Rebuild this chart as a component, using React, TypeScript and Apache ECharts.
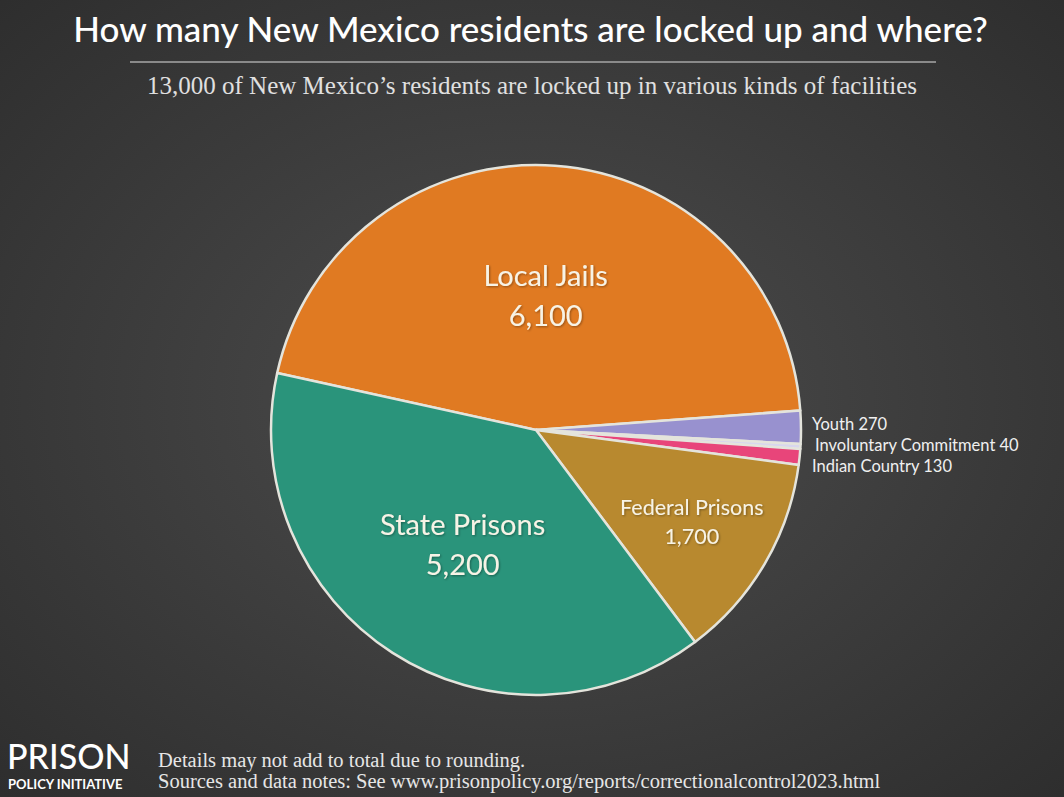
import React, { useEffect, useRef } from "react";
import * as echarts from "echarts";

const categories = ["Local Jails", "Youth", "Involuntary Commitment", "Indian Country", "Federal Prisons", "State Prisons"];
const values = [6100, 270, 40, 130, 1700, 5200];
const colors = ["#E07A22", "#9891CF", "#D8D6EE", "#E8457A", "#B8892F", "#2A947B"];
const bigLabels = ["Local Jails", "State Prisons"];
const midLabels = ["Federal Prisons"];
const smallLabels = ["Youth", "Involuntary Commitment", "Indian Country"];

const title = "How many New Mexico residents are locked up and where?";
const subtitle = "13,000 of New Mexico\u2019s residents are locked up in various kinds of facilities";
const note1 = "Details may not add to total due to rounding.";
const note2 = "Sources and data notes: See www.prisonpolicy.org/reports/correctionalcontrol2023.html";

const fmt = (v: number) => v.toLocaleString("en-US");

export default function App() {
  const ref = useRef<HTMLDivElement>(null);
  useEffect(() => {
    const chart = echarts.init(ref.current!, null, { renderer: "svg" });
    const center = ["536", "430"];
    const R = 265;
    const labelFont = "Lato, 'Open Sans', sans-serif";
    const pieData = categories.map((c, i) => ({ name: c, value: values[i], itemStyle: { color: colors[i] } }));
    const labelData = (show: string[], size: number) =>
      categories.map((c, i) => ({
        name: c,
        value: values[i],
        label: { show: show.includes(c), fontSize: size },
      }));
    const smallY = [424, 445, 466];
    const smallX = [812, 815, 812];
    const shadow = {
      textShadowColor: "rgba(0,0,0,0.35)",
      textShadowBlur: 2,
      textShadowOffsetX: 1,
      textShadowOffsetY: 1,
    };
    chart.setOption({
      animation: false,
      backgroundColor: {
        type: "radial",
        x: 0.5,
        y: 0.5,
        r: 0.75,
        colorStops: [
          { offset: 0, color: "#4d4d4d" },
          { offset: 1, color: "#2c2c2c" },
        ],
      },
      graphic: [
        {
          type: "text",
          left: "center",
          top: 10,
          style: { text: title, fill: "#ffffff", font: "500 35px Lato, 'Open Sans', sans-serif" },
        },
        {
          type: "line",
          shape: { x1: 130, y1: 62, x2: 936, y2: 62 },
          style: { stroke: "#8a8a8a", lineWidth: 2 },
        },
        {
          type: "text",
          left: "center",
          top: 73,
          style: { text: subtitle, fill: "#e0e0e0", font: "25px 'Liberation Serif', 'DejaVu Serif', serif" },
        },
        ...smallLabels.map((c, k) => ({
          type: "text",
          x: smallX[k],
          y: smallY[k],
          style: {
            text: `${c} ${fmt(values[categories.indexOf(c)])}`,
            fill: "#f0f0f0",
            font: "16.5px Lato, 'Open Sans', sans-serif",
            textVerticalAlign: "middle",
          },
        })),
        {
          type: "text",
          x: 7,
          y: 755,
          style: { text: "PRISON", fill: "#ffffff", font: "500 34px Lato, 'Open Sans', sans-serif", textVerticalAlign: "middle" },
        },
        {
          type: "text",
          x: 8,
          y: 784,
          style: { text: "POLICY INITIATIVE", fill: "#ffffff", font: "bold 13px Lato, 'Open Sans', sans-serif", textVerticalAlign: "middle" },
        },
        {
          type: "text",
          x: 158,
          y: 760,
          style: { text: note1, fill: "#e6e6e6", font: "20.5px 'Liberation Serif', 'DejaVu Serif', serif", textVerticalAlign: "middle" },
        },
        {
          type: "text",
          x: 158,
          y: 781,
          style: { text: note2, fill: "#e6e6e6", font: "20.5px 'Liberation Serif', 'DejaVu Serif', serif", textVerticalAlign: "middle" },
        },
      ],
      series: [
        {
          type: "pie",
          center,
          radius: [0, R],
          startAngle: 167.6,
          clockwise: true,
          silent: true,
          label: { show: false },
          labelLine: { show: false },
          itemStyle: { borderColor: "#e4e4dc", borderWidth: 2.5 },
          data: pieData,
        },
        {
          type: "pie",
          center,
          radius: [0, R],
          startAngle: 167.6,
          clockwise: true,
          silent: true,
          itemStyle: { color: "transparent" },
          labelLine: { show: false },
          label: {
            position: "inside",
            color: "#f7f3e6",
            fontFamily: labelFont,
            lineHeight: 40,
            formatter: (p: any) => `${p.name}\n${fmt(p.value)}`,
            ...shadow,
          },
          data: labelData(bigLabels, 29),
        },
        {
          type: "pie",
          center,
          radius: [90, R],
          startAngle: 167.6,
          clockwise: true,
          silent: true,
          itemStyle: { color: "transparent" },
          labelLine: { show: false },
          label: {
            position: "inside",
            color: "#f7f3e6",
            fontFamily: labelFont,
            lineHeight: 29,
            formatter: (p: any) => `${p.name}\n${fmt(p.value)}`,
            ...shadow,
          },
          data: labelData(midLabels, 21.5),
        },
      ],
    });
    return () => chart.dispose();
  }, []);
  return <div ref={ref} style={{ position: "absolute", left: 0, top: 0, width: 1064, height: 797 }} />;
}
